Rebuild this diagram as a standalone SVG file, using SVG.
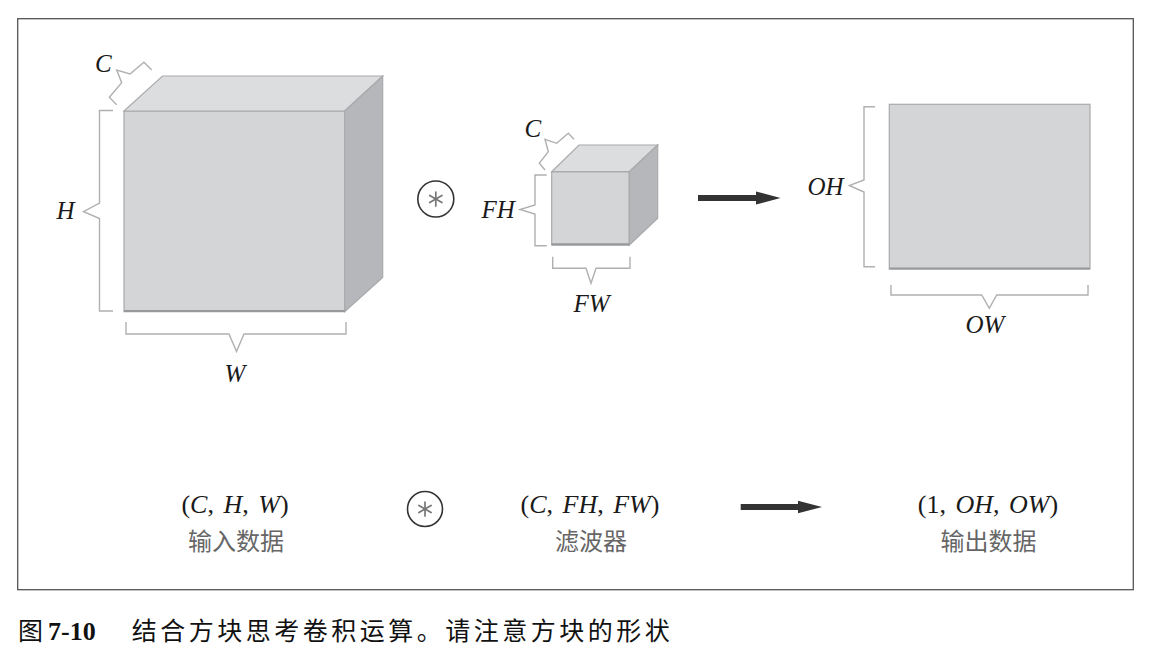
<svg xmlns="http://www.w3.org/2000/svg" width="1161" height="658" viewBox="0 0 1161 658">
<defs>
<style>
.frame{fill:#fff;stroke:#555;stroke-width:1.3}
.front{fill:#d4d5d7;stroke:#a9aaac;stroke-width:1.2}
.top{fill:#dcdddf;stroke:#a9aaac;stroke-width:1.2}
.side{fill:#b6b7ba;stroke:#a9aaac;stroke-width:1.2}
.shadow{stroke:#98999b;stroke-width:2.2;fill:none}
.br{fill:none;stroke:#b0b0b0;stroke-width:1.4;stroke-linejoin:miter}
.math{font-family:"Liberation Serif","DejaVu Serif",serif;font-style:italic;font-size:25px;fill:#1a1a1a}
.tup{font-family:"Liberation Serif","DejaVu Serif",serif;font-size:26px;fill:#1a1a1a;word-spacing:3px}
.cn{font-family:"Noto Sans CJK SC","Noto Sans",sans-serif;font-size:24px;fill:#666}
.op{fill:#fff;stroke:#333;stroke-width:1.6}
.ast{stroke:#777;stroke-width:1.7;stroke-linecap:round}
.arrow{stroke:#333;stroke-width:6;fill:none}
.cap{font-family:"Noto Sans CJK SC","Noto Sans",sans-serif;font-size:25px;fill:#111}
</style>
<marker id="ah" markerUnits="userSpaceOnUse" markerWidth="26" markerHeight="14" viewBox="0 0 26 14" refX="1" refY="7" orient="auto">
<path d="M0,0.5 L24.5,7 L0,13.5 Z" fill="#333"/>
</marker>
<g id="asterisk">
<line class="ast" x1="0" y1="-7" x2="0" y2="7"/>
<line class="ast" x1="-6.1" y1="-3.5" x2="6.1" y2="3.5"/>
<line class="ast" x1="-6.1" y1="3.5" x2="6.1" y2="-3.5"/>
</g>
</defs>

<rect class="frame" x="17.7" y="18.7" width="1115.6" height="571"/>

<g id="input-cube">
<rect class="front" x="124" y="111" width="220.7" height="200.7"/>
<polygon class="top" points="124,111 162.5,76 382.7,76 344.7,111"/>
<polygon class="side" points="344.7,111 382.7,76 382.7,277.5 344.7,311.7"/>
<line class="shadow" x1="124" y1="311" x2="344.7" y2="311"/>
<polyline class="br" points="116.7,104.7 109.3,97.3 121.7,82.7 116.7,70 130,74 144,62.3 151.7,70"/>
<text class="math" x="95" y="71.5">C</text>
<polyline class="br" points="113,110.5 99.5,110.5 99.5,203 83.5,211.7 99.5,218.5 99.5,311 113,311"/>
<text class="math" x="56.5" y="218.5">H</text>
<polyline class="br" points="126,322 126,334 229,334 236.5,351.5 244,334 346,334 346,322"/>
<text class="math" x="224.5" y="382">W</text>
</g>

<g id="conv-op-1">
<circle class="op" cx="435.8" cy="199" r="18"/>
<use href="#asterisk" x="435.8" y="199"/>
</g>

<g id="filter-cube">
<rect class="front" x="551.7" y="171.7" width="77.6" height="73.3"/>
<polygon class="top" points="551.7,171.7 579,145 657.7,145 629.3,171.7"/>
<polygon class="side" points="629.3,171.7 657.7,145 657.7,218.3 629.3,245"/>
<line class="shadow" x1="551.7" y1="244.3" x2="629.3" y2="244.3"/>
<polyline class="br" points="545,170 539.3,163.3 548.3,151.7 545,139.3 556.7,143.3 568.3,133.3 574,139.3"/>
<text class="math" x="524.5" y="137">C</text>
<polyline class="br" points="546.7,175 535,175 535,205 520,209.5 535,214 535,245.7 546.7,245.7"/>
<text class="math" x="481.5" y="218">FH</text>
<polyline class="br" points="552.7,256.7 552.7,268.3 586,268.3 591,283.3 596,268.3 630,268.3 630,256.7"/>
<text class="math" x="573.5" y="311.5">FW</text>
</g>

<g id="output-map">
<rect class="front" x="889.3" y="104.3" width="200.7" height="164.7"/>
<line class="shadow" x1="889.3" y1="268.5" x2="1090" y2="268.5"/>
<polyline class="br" points="875,106.7 864,106.7 864,180 849.3,185.5 864,192 864,266.7 875,266.7"/>
<text class="math" x="807.5" y="195">OH</text>
<polyline class="br" points="891,285 891,295 981.7,295 989.3,308.3 996.7,295 1088,295 1088,285"/>
<text class="math" x="965.5" y="333">OW</text>
</g>

<g id="connectors">
<line class="arrow" x1="698" y1="198" x2="757" y2="198" marker-end="url(#ah)"/>
<line class="arrow" x1="740.7" y1="507" x2="798.5" y2="507" marker-end="url(#ah)"/>
</g>

<g id="label-input">
<text class="tup" x="235" y="513" text-anchor="middle">(<tspan class="math" style="font-size:26px">C</tspan>, <tspan class="math" style="font-size:26px">H</tspan>, <tspan class="math" style="font-size:26px">W</tspan>)</text>
<text class="cn" x="236" y="549.5" text-anchor="middle">输入数据</text>
</g>

<g id="conv-op-2">
<circle class="op" cx="425" cy="509" r="17.5"/>
<use href="#asterisk" x="425" y="509"/>
</g>

<g id="label-filter">
<text class="tup" x="590" y="513" text-anchor="middle">(<tspan class="math" style="font-size:26px">C</tspan>, <tspan class="math" style="font-size:26px">FH</tspan>, <tspan class="math" style="font-size:26px">FW</tspan>)</text>
<text class="cn" x="591" y="549.5" text-anchor="middle">滤波器</text>
</g>

<g id="label-output">
<text class="tup" x="988" y="513" text-anchor="middle">(1, <tspan class="math" style="font-size:26px">OH</tspan>, <tspan class="math" style="font-size:26px">OW</tspan>)</text>
<text class="cn" x="988.5" y="549.5" text-anchor="middle">输出数据</text>
</g>

<g id="caption">
<text class="cap" x="18" y="639.5">图</text>
<text x="48" y="639.5" font-family="Liberation Serif, serif" font-weight="bold" font-size="26" fill="#111">7-10</text>
<text class="cap" x="131.7" y="639.5" letter-spacing="3.5">结合方块思考卷积运算。请注意方块的形状</text>
</g>
</svg>
